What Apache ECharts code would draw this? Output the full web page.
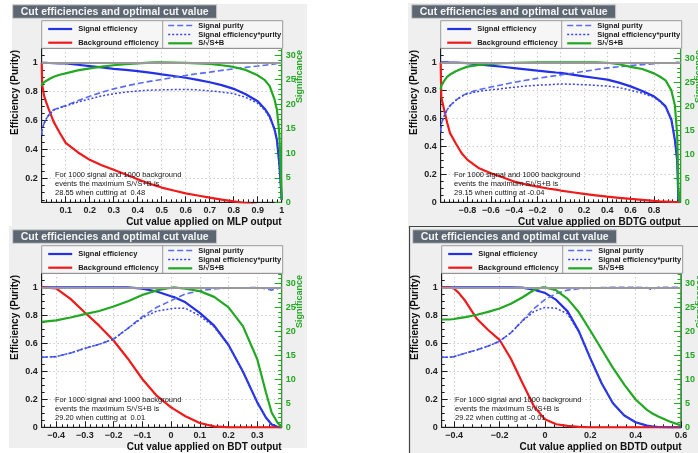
<!DOCTYPE html>
<html>
<head>
<meta charset="utf-8">
<script src="https://cdn.jsdelivr.net/npm/echarts@6/dist/echarts.min.js"></script>
<style>
  html, body { margin: 0; padding: 0; background: #ffffff; }
  #chart { width: 698px; height: 453px; }
</style>
</head>
<body>
<div id="chart"></div>
<script>
// ---------- MLP ----------
const mlpCut = [0, 0.002, 0.01, 0.02, 0.03, 0.05, 0.075, 0.1, 0.15, 0.2, 0.25, 0.3, 0.35, 0.4, 0.45, 0.48, 0.5, 0.55, 0.6, 0.65, 0.7, 0.75, 0.8, 0.85, 0.9, 0.93, 0.95, 0.97, 0.98, 0.99, 0.995, 1.0];
const mlpSigEff = [1, 1, 1, 0.999, 0.998, 0.997, 0.996, 0.995, 0.986, 0.977, 0.968, 0.958, 0.95, 0.942, 0.931, 0.924, 0.919, 0.908, 0.896, 0.881, 0.865, 0.845, 0.819, 0.782, 0.733, 0.68, 0.629, 0.54, 0.466, 0.3, 0.18, 0.05];
const mlpBkgEff = [1.0, 0.85, 0.77, 0.72, 0.675, 0.59, 0.515, 0.445, 0.38, 0.327, 0.29, 0.258, 0.225, 0.193, 0.162, 0.147, 0.135, 0.115, 0.095, 0.08, 0.065, 0.052, 0.039, 0.027, 0.016, 0.01, 0.007, 0.004, 0.003, 0.001, 0, 0];
const mlpPurity = [0.5, 0.54, 0.58, 0.615, 0.64, 0.675, 0.69, 0.703, 0.737, 0.768, 0.795, 0.819, 0.838, 0.856, 0.871, 0.879, 0.884, 0.898, 0.912, 0.924, 0.935, 0.947, 0.958, 0.968, 0.977, 0.983, 0.987, 0.992, 0.995, 0.998, 0.999, 1.0];
const mlpEffPurity = [0.5, 0.54, 0.58, 0.614, 0.638, 0.673, 0.687, 0.7, 0.727, 0.75, 0.77, 0.785, 0.796, 0.805, 0.81, 0.811, 0.812, 0.814, 0.815, 0.812, 0.805, 0.797, 0.785, 0.76, 0.72, 0.67, 0.62, 0.535, 0.465, 0.3, 0.18, 0.05];
const mlpSignif = [23.7, 24.2, 24.5, 24.8, 25.1, 25.6, 26.0, 26.3, 26.9, 27.3, 27.65, 27.95, 28.15, 28.35, 28.5, 28.55, 28.55, 28.5, 28.45, 28.35, 28.2, 27.95, 27.6, 27.0, 25.9, 24.9, 23.7, 21.0, 18.9, 14.1, 8.0, 0.5];

// ---------- BDTG ----------
const bdtgCut = [-1.03, -1.025, -1.0, -0.975, -0.95, -0.9, -0.85, -0.8, -0.7, -0.6, -0.5, -0.4, -0.3, -0.2, -0.1, -0.04, 0, 0.1, 0.2, 0.3, 0.4, 0.5, 0.6, 0.7, 0.8, 0.85, 0.9, 0.95, 0.98, 1.0, 1.01, 1.02];
const bdtgSigEff = [1, 1, 1, 0.999, 0.998, 0.997, 0.996, 0.994, 0.985, 0.976, 0.968, 0.959, 0.95, 0.94, 0.932, 0.927, 0.924, 0.912, 0.9, 0.888, 0.876, 0.855, 0.828, 0.795, 0.757, 0.725, 0.685, 0.59, 0.446, 0.3, 0.02, 0];
const bdtgBkgEff = [1.0, 0.75, 0.66, 0.57, 0.494, 0.42, 0.35, 0.303, 0.243, 0.208, 0.179, 0.148, 0.128, 0.112, 0.097, 0.09, 0.084, 0.072, 0.06, 0.05, 0.04, 0.032, 0.024, 0.017, 0.01, 0.007, 0.005, 0.003, 0.002, 0.002, 0.001, 0];
const bdtgPurity = [0.5, 0.56, 0.62, 0.66, 0.69, 0.73, 0.76, 0.78, 0.805, 0.823, 0.84, 0.857, 0.872, 0.885, 0.898, 0.905, 0.91, 0.922, 0.935, 0.948, 0.96, 0.968, 0.976, 0.983, 0.99, 0.993, 0.995, 0.997, 0.998, 1.0, 1.0, 1.0];
const bdtgEffPurity = [0.5, 0.56, 0.62, 0.66, 0.69, 0.728, 0.757, 0.775, 0.793, 0.803, 0.813, 0.822, 0.83, 0.836, 0.84, 0.843, 0.845, 0.843, 0.84, 0.835, 0.83, 0.82, 0.8, 0.78, 0.75, 0.72, 0.68, 0.59, 0.445, 0.3, 0.02, 0];
const bdtgSignif = [23.5, 24.3, 25.3, 26.1, 26.6, 27.3, 27.8, 28.25, 28.6, 28.8, 28.95, 29.05, 29.1, 29.12, 29.14, 29.15, 29.15, 29.15, 29.13, 29.12, 29.05, 28.75, 28.2, 27.75, 26.85, 26.2, 25.4, 23.3, 20.2, 14.0, 3.0, 0];

// ---------- BDT ----------
const bdtCut = [-0.45, -0.4, -0.35, -0.3, -0.25, -0.2, -0.15, -0.1, -0.05, 0, 0.01, 0.05, 0.1, 0.15, 0.2, 0.25, 0.3, 0.33, 0.35, 0.37, 0.385];
const bdtSigEff = [1, 1, 1, 1, 1, 1, 1, 0.99, 0.97, 0.936, 0.93, 0.893, 0.817, 0.726, 0.588, 0.398, 0.178, 0.07, 0.02, 0.003, 0];
const bdtBkgEff = [1.0, 0.993, 0.917, 0.82, 0.726, 0.62, 0.49, 0.345, 0.226, 0.143, 0.13, 0.079, 0.031, 0.007, 0, 0, 0, 0, 0, 0, 0];
const bdtPurity = [0.5, 0.505, 0.53, 0.564, 0.593, 0.63, 0.707, 0.79, 0.857, 0.905, 0.915, 0.952, 0.976, 0.988, 0.995, 0.997, 0.998, 0.99, 0.98, 0.99, 1.0];
const bdtEffPurity = [0.5, 0.505, 0.53, 0.564, 0.593, 0.63, 0.707, 0.782, 0.83, 0.847, 0.851, 0.85, 0.797, 0.717, 0.585, 0.397, 0.178, 0.07, 0.02, 0.003, 0];
const bdtSignif = [22.0, 22.3, 22.9, 23.6, 24.25, 25.2, 26.3, 27.6, 28.55, 29.1, 29.2, 28.9, 28.4, 27.2, 25.0, 21.1, 14.2, 7.3, 3.1, 1.0, 0];

// ---------- BDTD ----------
const bdtdCut = [-0.455, -0.42, -0.4, -0.38, -0.35, -0.3, -0.25, -0.2, -0.15, -0.1, -0.05, -0.01, 0, 0.05, 0.1, 0.15, 0.2, 0.25, 0.3, 0.35, 0.4, 0.45, 0.47, 0.5, 0.55, 0.6];
const bdtdSigEff = [1, 1, 1, 1, 1, 1, 1, 1, 1, 0.998, 0.983, 0.965, 0.96, 0.91, 0.828, 0.685, 0.494, 0.315, 0.172, 0.084, 0.036, 0.012, 0.007, 0.002, 0, 0];
const bdtdBkgEff = [1.0, 1.0, 0.99, 0.96, 0.9, 0.775, 0.695, 0.625, 0.49, 0.32, 0.155, 0.075, 0.058, 0.022, 0.01, 0.003, 0, 0, 0, 0, 0, 0, 0, 0, 0, 0];
const bdtdPurity = [0.5, 0.5, 0.505, 0.515, 0.53, 0.553, 0.58, 0.615, 0.675, 0.76, 0.845, 0.9, 0.912, 0.955, 0.98, 0.99, 0.995, 0.998, 1.0, 1.0, 1.0, 0.998, 0.983, 1.0, 1.0, 1.0];
const bdtdEffPurity = [0.5, 0.5, 0.505, 0.515, 0.53, 0.553, 0.58, 0.615, 0.675, 0.758, 0.825, 0.852, 0.855, 0.85, 0.81, 0.68, 0.492, 0.315, 0.172, 0.084, 0.036, 0.012, 0.007, 0.002, 0, 0];
const bdtdSignif = [22.5, 22.5, 22.6, 22.8, 23.0, 23.5, 24.1, 24.8, 25.8, 27.1, 28.6, 29.22, 29.2, 28.6, 26.8, 24.0, 20.2, 16.3, 12.4, 8.9, 5.8, 3.65, 3.0, 2.25, 1.2, 0.4];

// ---------- tick labels ----------
const mlpXTicks = [0.1, 0.2, 0.3, 0.4, 0.5, 0.6, 0.7, 0.8, 0.9, 1.0];
const bdtgXTicks = [-0.8, -0.6, -0.4, -0.2, 0, 0.2, 0.4, 0.6, 0.8];
const bdtXTicks = [-0.4, -0.3, -0.2, -0.1, 0, 0.1, 0.2, 0.3];
const bdtdXTicks = [-0.4, -0.2, 0, 0.2, 0.4, 0.6];
const effTicksFull = [0, 0.2, 0.4, 0.6, 0.8, 1.0];
const effTicksNoZero = [0.2, 0.4, 0.6, 0.8, 1.0];
const sigTicks = [0, 5, 10, 15, 20, 25, 30];

const FONT = '"Liberation Sans", Arial, Helvetica, sans-serif';
const C_SIG = '#2430e6';
const C_BKG = '#f01a1a';
const C_PUR = '#5c6cf0';
const C_EP = '#3845e4';
const C_SGF = '#22a822';
const C_AXIS = '#1e1e1e';

const FW = 240, FH = 154;

const panels = [
  { method: 'MLP', cut: mlpCut, sigEff: mlpSigEff, bkgEff: mlpBkgEff, purity: mlpPurity, effPur: mlpEffPurity, signif: mlpSignif,
    maxSig: 28.55, optCut: ' 0.48', xMin: 0, xMax: 1, xTicks: mlpXTicks, xMinorStep: 0.02, yMin: 0.033, yTicks: effTicksNoZero,
    frame: { x: 41.7, y: 48.3 }, pad: { x: 12, y: 4, w: 295, h: 224 } },
  { method: 'BDTG', cut: bdtgCut, sigEff: bdtgSigEff, bkgEff: bdtgBkgEff, purity: bdtgPurity, effPur: bdtgEffPurity, signif: bdtgSignif,
    maxSig: 29.15, optCut: '-0.04', xMin: -1.03, xMax: 1.03, xTicks: bdtgXTicks, xMinorStep: 0.04, yMin: 0, yTicks: effTicksFull,
    frame: { x: 440.7, y: 48.3 }, pad: { x: 408, y: 3, w: 290, h: 225 } },
  { method: 'BDT', cut: bdtCut, sigEff: bdtSigEff, bkgEff: bdtBkgEff, purity: bdtPurity, effPur: bdtEffPurity, signif: bdtSignif,
    maxSig: 29.20, optCut: ' 0.01', xMin: -0.45, xMax: 0.385, xTicks: bdtXTicks, xMinorStep: 0.02, yMin: 0, yTicks: effTicksFull,
    frame: { x: 41.7, y: 273.3 }, pad: { x: 9, y: 226, w: 298, h: 222 } },
  { method: 'BDTD', cut: bdtdCut, sigEff: bdtdSigEff, bkgEff: bdtdBkgEff, purity: bdtdPurity, effPur: bdtdEffPurity, signif: bdtdSignif,
    maxSig: 29.22, optCut: '-0.01', xMin: -0.455, xMax: 0.6, xTicks: bdtdXTicks, xMinorStep: 0.04, yMin: 0, yTicks: effTicksFull,
    frame: { x: 441.7, y: 273.3 }, pad: { x: 409, y: 226, w: 289, h: 227 }, framed: true }
];

// tick positions between min and max at a regular step
function stepValues(min, max, step) {
  const out = [];
  const start = Math.ceil((min - 1e-9) / step);
  for (let k = start; k * step <= max + 1e-9; k++) out.push(Math.round(k * step * 1e6) / 1e6);
  return out;
}

function numLabel(v) {
  if (Math.abs(v) < 1e-9) return '0';
  if (Math.abs(Math.abs(v) - 1) < 1e-9) return (v < 0 ? '\u22121' : '1');
  const s = Math.abs(v).toFixed(1);
  return v < 0 ? '\u2212' + s : s;
}

const grids = [], xAxes = [], yAxes = [], series = [], graphics = [];

panels.forEach((p, i) => {
  const fx = p.frame.x, fy = p.frame.y;
  const sigMax = p.maxSig * 1.1;
  grids.push({ left: fx, top: fy, width: FW, height: FH, show: true, backgroundColor: '#ffffff', borderColor: C_AXIS, borderWidth: 1 });

  // cut-value axis + its minor ticks
  xAxes.push({
    gridIndex: i, type: 'value', min: p.xMin, max: p.xMax, position: 'bottom',
    axisLine: { show: true, onZero: false, lineStyle: { color: C_AXIS, width: 1 } },
    axisTick: { show: true, inside: true, length: 6, customValues: p.xTicks, lineStyle: { color: C_AXIS } },
    axisLabel: { show: true, customValues: p.xTicks, formatter: numLabel, margin: 4, fontFamily: FONT, fontWeight: 'bold', fontSize: 9, color: '#222' },
    splitLine: { show: true, lineStyle: { color: '#b4b4b4', type: [1, 3], width: 1 } }
  });
  xAxes.push({
    gridIndex: i, type: 'value', min: p.xMin, max: p.xMax, position: 'bottom',
    axisLine: { show: false, onZero: false }, axisLabel: { show: false }, splitLine: { show: false },
    axisTick: { show: true, inside: true, length: 3, customValues: stepValues(p.xMin, p.xMax, p.xMinorStep), lineStyle: { color: C_AXIS } }
  });

  // efficiency axis (left) + minor ticks
  yAxes.push({
    gridIndex: i, type: 'value', min: p.yMin, max: 1.1, position: 'left',
    axisLine: { show: true, onZero: false, lineStyle: { color: C_AXIS, width: 1 } },
    axisTick: { show: true, inside: true, length: 6, customValues: p.yTicks, lineStyle: { color: C_AXIS } },
    axisLabel: { show: true, customValues: p.yTicks, formatter: numLabel, margin: 4, fontFamily: FONT, fontWeight: 'bold', fontSize: 9, color: '#222' },
    splitLine: { show: true, lineStyle: { color: '#b4b4b4', type: [1, 3], width: 1 } }
  });
  yAxes.push({
    gridIndex: i, type: 'value', min: p.yMin, max: 1.1, position: 'left',
    axisLine: { show: false, onZero: false }, axisLabel: { show: false }, splitLine: { show: false },
    axisTick: { show: true, inside: true, length: 3, customValues: stepValues(p.yMin, 1.1, 0.05), lineStyle: { color: C_AXIS } }
  });

  // significance axis (right) + minor ticks
  yAxes.push({
    gridIndex: i, type: 'value', min: 0, max: sigMax, position: 'right',
    axisLine: { show: true, onZero: false, lineStyle: { color: C_SGF, width: 1 } },
    axisTick: { show: true, inside: true, length: 7, customValues: sigTicks, lineStyle: { color: C_SGF } },
    axisLabel: { show: true, customValues: sigTicks, formatter: v => String(Math.round(v)), margin: 4, fontFamily: FONT, fontWeight: 'bold', fontSize: 9, color: C_SGF },
    splitLine: { show: false }
  });
  yAxes.push({
    gridIndex: i, type: 'value', min: 0, max: sigMax, position: 'right',
    axisLine: { show: false, onZero: false }, axisLabel: { show: false }, splitLine: { show: false },
    axisTick: { show: true, inside: true, length: 3.5, customValues: stepValues(0, sigMax, 1), lineStyle: { color: C_SGF } }
  });

  const xi = 2 * i, yl = 4 * i, yr = 4 * i + 2;
  const pts = arr => p.cut.map((x, k) => [x, arr[k]]);
  const base = { type: 'line', xAxisIndex: xi, showSymbol: false, symbol: 'none', smooth: false, clip: true, silent: true, animation: false };

  series.push(Object.assign({}, base, {
    name: 'Signal efficiency', yAxisIndex: yl, data: pts(p.sigEff),
    lineStyle: { color: C_SIG, width: 2.2 },
    markLine: { silent: true, symbol: 'none', label: { show: false }, data: [{ yAxis: 1 }], lineStyle: { color: '#999999', width: 1.8, type: 'solid' }, animation: false }
  }));
  series.push(Object.assign({}, base, { name: 'Background efficiency', yAxisIndex: yl, data: pts(p.bkgEff), lineStyle: { color: C_BKG, width: 2.2 } }));
  series.push(Object.assign({}, base, { name: 'Signal purity', yAxisIndex: yl, data: pts(p.purity), lineStyle: { color: C_PUR, width: 1.6, type: [6, 3] } }));
  series.push(Object.assign({}, base, { name: 'Signal efficiency*purity', yAxisIndex: yl, data: pts(p.effPur), lineStyle: { color: C_EP, width: 1.5, type: [2, 2] } }));
  series.push(Object.assign({}, base, { name: 'S/\u221aS+B', yAxisIndex: yr, data: pts(p.signif), lineStyle: { color: C_SGF, width: 2.2 } }));

  // ---- pad decorations ----
  graphics.push({ type: 'rect', z: -10, silent: true, shape: { x: p.pad.x, y: p.pad.y, width: p.pad.w, height: p.pad.h }, style: { fill: '#efefef' } });
  if (p.framed) {
    graphics.push({ type: 'line', z: -9, silent: true, shape: { x1: p.pad.x + 0.5, y1: p.pad.y, x2: p.pad.x + 0.5, y2: p.pad.y + p.pad.h }, style: { stroke: '#444', lineWidth: 1.2 } });
    graphics.push({ type: 'line', z: -9, silent: true, shape: { x1: p.pad.x, y1: p.pad.y + 0.5, x2: p.pad.x + p.pad.w, y2: p.pad.y + 0.5 }, style: { stroke: '#444', lineWidth: 1.2 } });
  }

  // title box
  const tbx = fx - 29, tby = fy - 43.5;
  graphics.push({ type: 'rect', z: 20, silent: true, shape: { x: tbx, y: tby, width: 204, height: 13.5 }, style: { fill: '#5d6773', stroke: '#cfcfcf', lineWidth: 1 } });
  graphics.push({ type: 'text', z: 21, silent: true, x: tbx + 102, y: tby + 7, style: { text: 'Cut efficiencies and optimal cut value', fill: '#f4f4f4', font: 'bold 10.5px ' + FONT, align: 'center', verticalAlign: 'middle' } });

  // legend box
  const lx = fx, ly = fy - 27.6, lw = 241, lh = 27.6;
  graphics.push({ type: 'rect', z: 20, silent: true, shape: { x: lx, y: ly, width: lw, height: lh }, style: { fill: '#f6f6f6', stroke: '#9a9a9a', lineWidth: 1 } });
  graphics.push({ type: 'line', z: 21, silent: true, shape: { x1: lx + 121, y1: ly, x2: lx + 121, y2: ly + lh }, style: { stroke: '#9a9a9a', lineWidth: 1 } });
  const legFont = 'bold 7.5px ' + FONT;
  const legItems = [
    { x: lx + 6.5, y: ly + 8.3, color: C_SIG, dash: null, w: 2.2, text: 'Signal efficiency' },
    { x: lx + 6.5, y: ly + 22, color: C_BKG, dash: null, w: 2.2, text: 'Background efficiency' },
    { x: lx + 126.5, y: ly + 4.8, color: C_PUR, dash: [6, 3], w: 1.6, text: 'Signal purity' },
    { x: lx + 126.5, y: ly + 13.8, color: C_EP, dash: [2, 2], w: 1.5, text: 'Signal efficiency*purity' },
    { x: lx + 126.5, y: ly + 22.6, color: C_SGF, dash: null, w: 2.2, text: 'S/\u221aS+B' }
  ];
  legItems.forEach(it => {
    graphics.push({ type: 'line', z: 22, silent: true, shape: { x1: it.x, y1: it.y, x2: it.x + 24, y2: it.y }, style: { stroke: it.color, lineWidth: it.w, lineDash: it.dash } });
    graphics.push({ type: 'text', z: 22, silent: true, x: it.x + 30, y: it.y, style: { text: it.text, fill: '#1a1a1a', font: legFont, align: 'left', verticalAlign: 'middle' } });
  });

  // optimum annotation
  const notes = ['For 1000 signal and 1000 background', 'events the maximum S/\u221aS+B is', p.maxSig.toFixed(2) + ' when cutting at ' + p.optCut];
  notes.forEach((t, k) => {
    graphics.push({ type: 'text', z: 22, silent: true, x: fx + 13.3, y: fy + 126.5 + 9 * k, style: { text: t, fill: '#151515', font: '7.5px ' + FONT, align: 'left', verticalAlign: 'middle' } });
  });

  // axis titles
  graphics.push({ type: 'text', z: 22, silent: true, x: fx + FW, y: fy + FH + 20, style: { text: 'Cut value applied on ' + p.method + ' output', fill: '#111', font: 'bold 10px ' + FONT, align: 'right', verticalAlign: 'middle' } });
  graphics.push({ type: 'text', z: 22, silent: true, x: fx - 26.5, y: fy + 1.7, rotation: Math.PI / 2, style: { text: 'Efficiency (Purity)', fill: '#111', font: 'bold 10px ' + FONT, align: 'right', verticalAlign: 'middle' } });
  graphics.push({ type: 'text', z: 22, silent: true, x: fx + FW + 17.5, y: fy + 1.7, rotation: Math.PI / 2, style: { text: 'Significance', fill: C_SGF, font: 'bold 9px ' + FONT, align: 'right', verticalAlign: 'middle' } });
});

const chart = echarts.init(document.getElementById('chart'), null, { renderer: 'canvas', width: 698, height: 453 });
chart.setOption({
  animation: false,
  backgroundColor: '#ffffff',
  grid: grids,
  xAxis: xAxes,
  yAxis: yAxes,
  series: series,
  graphic: { elements: graphics }
});
</script>
</body>
</html>
